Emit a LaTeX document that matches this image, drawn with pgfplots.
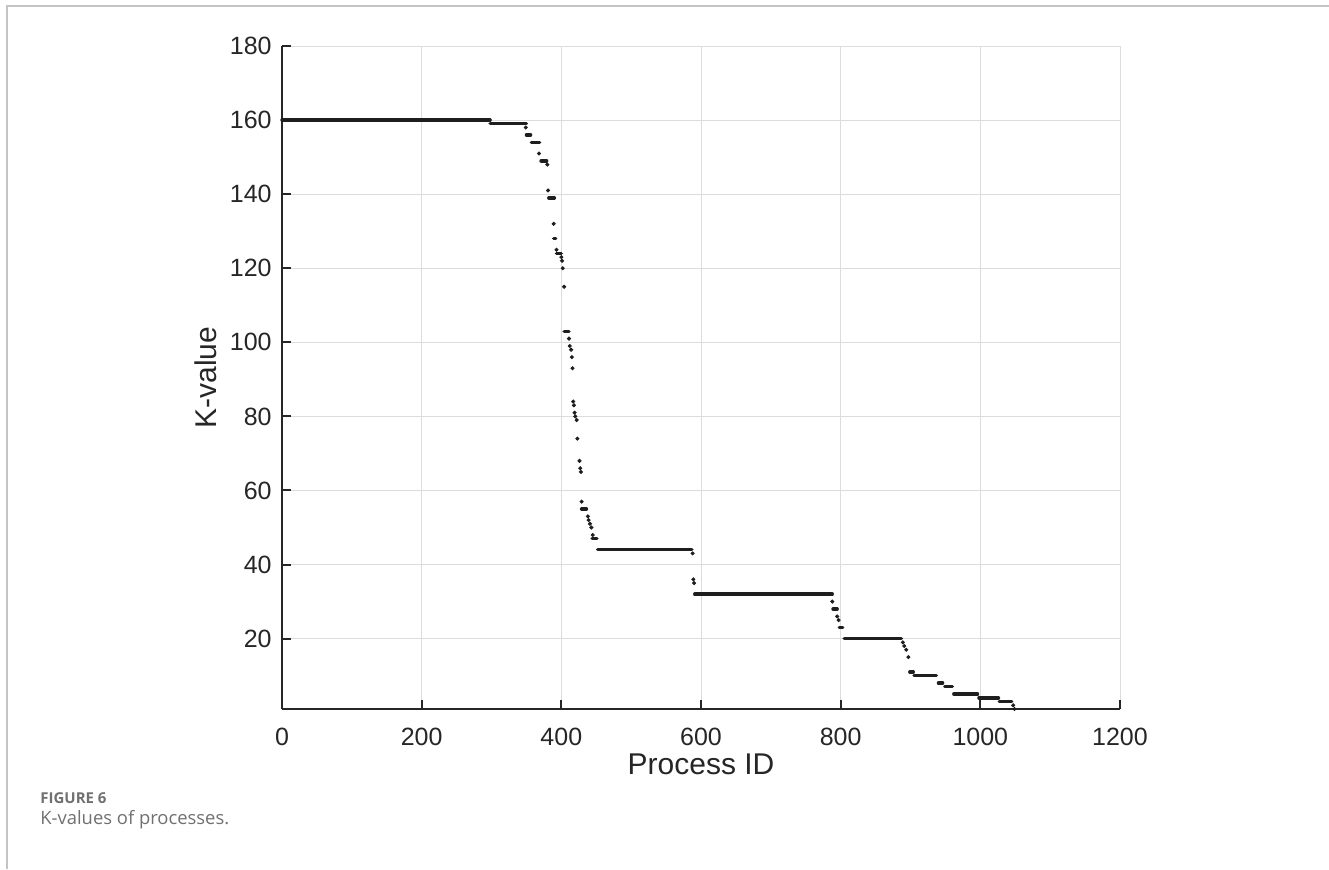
\documentclass[border=0pt]{standalone}
\usepackage{fontspec}
\setmainfont{Liberation Sans}
\newfontfamily\capfont{Open Sans}
\usepackage{pgfplots}
\pgfplotsset{compat=1.18}
\definecolor{axgray}{HTML}{262626}
\definecolor{dotc}{HTML}{1E1E1E}
\definecolor{gridgray}{HTML}{DCDCDC}
\definecolor{framegray}{HTML}{C4C4C4}
\definecolor{capgray}{HTML}{707070}

\begin{document}
\begin{tikzpicture}
\useasboundingbox (0,0) rectangle (664.5pt,-434.5pt);
\draw[framegray, line width=0.7pt] (3.5pt,-434.5pt) -- (3.5pt,-3pt) -- (664.5pt,-3pt);
\begin{axis}[
  at={(141pt,-354.5pt)}, anchor=south west,
  scale only axis, width=419pt, height=331.5pt,
  xmin=0, xmax=1200, ymin=1, ymax=180,
  xtick={0,200,...,1200}, ytick={20,40,...,180},
  axis x line*=bottom, axis y line*=left,
  axis line style={-, axgray, line width=1pt},
  tick align=inside, major tick length=4.5pt,
  tick style={axgray, line width=1pt},
  grid=major, major grid style={gridgray, line width=0.5pt},
  ticklabel style={font=\fontsize{12.5}{14}\selectfont, text=axgray},
  /pgf/number format/assume math mode=true,
  /pgf/number format/1000 sep={},
  yticklabel style={inner sep=0pt, xshift=-5pt},
  xticklabel style={inner sep=0pt, yshift=-9.5pt},
  xlabel={Process ID}, ylabel={K-value},
  label style={font=\fontsize{15}{18}\selectfont, text=axgray},
  xlabel style={yshift=-0.5pt},
  ylabel style={yshift=3pt},
  clip=false,
]
% plateaus (runs of equal K), drawn as thick segments
\addplot[dotc, line width=1.7pt, line cap=round, unbounded coords=jump] coordinates {
  (0,160) (298,160) (298,nan)
  (298,159) (350,159) (350,nan)
  (350,156) (356,156) (356,nan)
  (357,154) (369,154) (369,nan)
  (371,149) (379,149) (379,nan)
  (382,139) (390,139) (390,nan)
  (389,128) (392,128) (392,nan)
  (393,124) (400,124) (400,nan)
  (404,103) (411,103) (411,nan)
  (429,55) (436,55) (436,nan)
  (444,47) (451,47) (451,nan)
  (452,44) (587,44) (587,nan)
  (591,32) (788,32) (788,nan)
  (789,28) (795,28) (795,nan)
  (798,23) (803,23) (803,nan)
  (805,20) (887,20) (887,nan)
  (899,11) (904,11) (904,nan)
  (905,10) (937,10) (937,nan)
  (940,8) (946,8) (946,nan)
  (949,7) (960,7) (960,nan)
  (962,5) (996,5) (996,nan)
  (998,4) (1026,4) (1026,nan)
  (1027,3) (1045,3)
};
% single processes
\addplot[only marks, mark=*, mark size=0.8pt, dotc] coordinates {
  (349,158) (368,151) (380,148) (381,141) (389,132) (393,125)
  (400,123) (401,122) (402,120) (404,115) (411,101) (412,99)
  (414,98) (415,96) (416,93) (417,84) (418,83) (419,81) (420,80)
  (422,79) (423,74) (426,68) (427,66) (428,65) (429,57) (438,53)
  (439,52) (441,51) (443,50) (445,48) (588,43) (589,36) (590,35)
  (788,30) (795,26) (797,25) (889,19) (891,18) (894,17) (897,15)
  (1047,2) (1049,1)
};
\end{axis}
\node[anchor=base west, inner sep=0pt, text=capgray, font=\capfont\bfseries\fontsize{7.5}{9}\selectfont] at (20pt,-401.5pt) {FIGURE 6};
\node[anchor=base west, inner sep=0pt, text=capgray, font=\capfont\fontsize{9.2}{10}\selectfont] at (20pt,-412pt) {K-values of processes.};
\end{tikzpicture}
\end{document}
